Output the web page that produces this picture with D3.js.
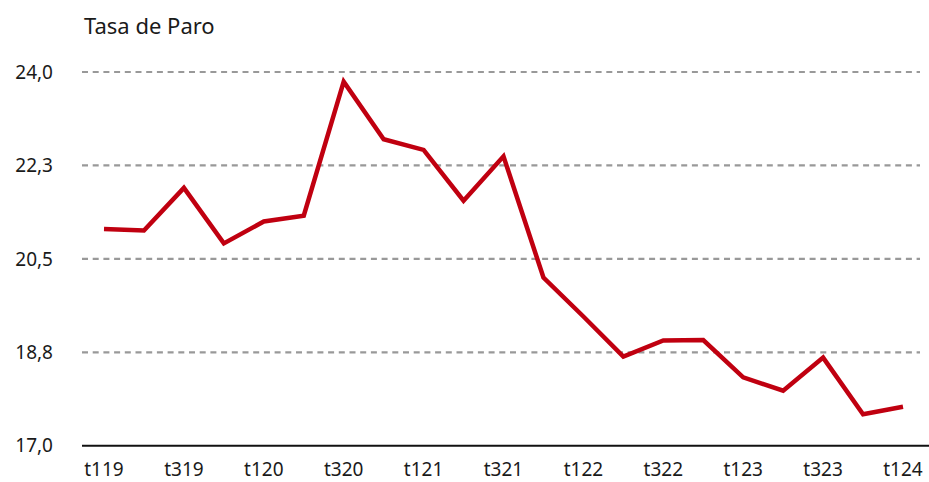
<!DOCTYPE html>
<html>
<head>
<meta charset="utf-8">
<script src="https://cdn.jsdelivr.net/npm/d3@7"></script>
<style>
  body { margin: 0; background: #fff; }
  text { font-family: "Noto Sans", "Open Sans", sans-serif; fill: #1a1a1a; }
</style>
</head>
<body>
<div id="chart"></div>
<script>
// Quarters and unemployment rate
const quarters = ["t119", "t219", "t319", "t419", "t120", "t220", "t320", "t420",
    "t121", "t221", "t321", "t421", "t122", "t222", "t322", "t422",
    "t123", "t223", "t323", "t423", "t124"];
const tasaParo = [21.06, 21.03, 21.83, 20.79, 21.20, 21.31, 23.82, 22.74,
    22.54, 21.59, 22.42, 20.15, 19.42, 18.67, 18.97, 18.98,
    18.28, 18.03, 18.65, 17.59, 17.73];
const yTicks = [17.0, 18.75, 20.5, 22.25, 24.0];
const yTickLabels = ["17,0", "18,8", "20,5", "22,3", "24,0"];
const xTickLabels = ["t119", "t319", "t120", "t320", "t121", "t321", "t122", "t322", "t123", "t323", "t124"];

const width = 929;
const height = 482;

const svg = d3.select("#chart")
    .append("svg")
    .attr("width", width)
    .attr("height", height);

const x = d3.scalePoint()
    .domain(quarters)
    .range([104, 903]);

const y = d3.scaleLinear()
    .domain([17, 24])
    .range([445.7, 72]);

// Title
svg.append("text")
    .attr("x", 84)
    .attr("y", 34)
    .text("Tasa de Paro")
    .style("font-size", "22px");

// Dashed grid lines (not at the baseline)
svg.append("g")
    .selectAll("line")
    .data(yTicks.slice(1))
    .enter()
    .append("line")
    .attr("x1", 82)
    .attr("x2", 920)
    .attr("y1", d => y(d))
    .attr("y2", d => y(d))
    .attr("stroke", "#999")
    .attr("stroke-width", 2.2)
    .attr("stroke-dasharray", "6,4.7");

// Y labels
svg.append("g")
    .selectAll("text")
    .data(yTicks)
    .enter()
    .append("text")
    .attr("x", 53)
    .attr("y", d => y(d))
    .attr("dy", "0.35em")
    .attr("text-anchor", "end")
    .text((d, i) => yTickLabels[i])
    .style("font-size", "19px");

// Baseline axis
svg.append("line")
    .attr("x1", 82)
    .attr("x2", width)
    .attr("y1", y(17))
    .attr("y2", y(17))
    .attr("stroke", "#111")
    .attr("stroke-width", 2);

// X labels
svg.append("g")
    .selectAll("text")
    .data(xTickLabels)
    .enter()
    .append("text")
    .attr("x", d => x(d))
    .attr("y", 476)
    .attr("text-anchor", "middle")
    .text(d => d)
    .style("font-size", "19px");

// Line
const line = d3.line()
    .x((d, i) => x(quarters[i]))
    .y(d => y(d));

svg.append("path")
    .datum(tasaParo)
    .attr("fill", "none")
    .attr("stroke", "#c00010")
    .attr("stroke-width", 4.5)
    .attr("stroke-linejoin", "miter")
    .attr("d", line);
</script>
</body>
</html>
